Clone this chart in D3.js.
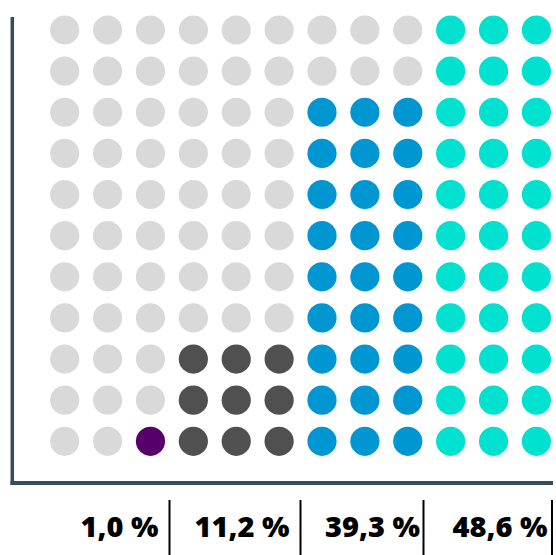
<!DOCTYPE html>
<html>
<head>
<meta charset="utf-8">
<script src="https://cdn.jsdelivr.net/npm/d3@7"></script>
<style>
  html, body { margin: 0; padding: 0; background: #ffffff; }
  svg { display: block; }
</style>
</head>
<body>
<svg id="chart" width="556" height="555"></svg>
<script>
// ---- data ----
const groups = ["A", "B", "C", "D"];
const labels = ["1,0 %", "11,2 %", "39,3 %", "48,6 %"];
const dotCounts = [1, 9, 27, 33];
const groupColors = ["#57006b", "#505050", "#0096d1", "#00e1d0"];
const colsPerGroup = 3;
const rowsCount = 11;

// ---- layout ----
const svg = d3.select("#chart");
const nCols = groups.length * colsPerGroup;

const x = d3.scalePoint().domain(d3.range(nCols)).range([64.7, 536.4]);
const y = d3.scalePoint().domain(d3.range(rowsCount)).range([441.3, 30]);
const r = 14.6;

// build cells: each group fills bottom-up, right-to-left
const cells = [];
groups.forEach((g, gi) => {
  for (let row = 0; row < rowsCount; row++) {
    for (let k = 0; k < colsPerGroup; k++) {
      const idx = row * colsPerGroup + k;           // fill order index
      const col = gi * colsPerGroup + (colsPerGroup - 1 - k);
      cells.push({ col, row, filled: idx < dotCounts[gi], color: groupColors[gi] });
    }
  }
});

svg.append("g").selectAll("circle")
  .data(cells)
  .join("circle")
  .attr("cx", d => x(d.col))
  .attr("cy", d => y(d.row))
  .attr("r", r)
  .attr("fill", d => d.filled ? d.color : "#d9d9d9");

// axes lines
const axisColor = "#364b5b";
svg.append("line")
  .attr("x1", 12.3).attr("x2", 12.3)
  .attr("y1", 17).attr("y2", 485)
  .attr("stroke", axisColor).attr("stroke-width", 3.5);
svg.append("line")
  .attr("x1", 10.5).attr("x2", 553)
  .attr("y1", 483).attr("y2", 483)
  .attr("stroke", axisColor).attr("stroke-width", 4);

// labels and separators
const sepX = [169.5, 300.5, 423.5, 552];
const gap = [11, 11, 3.5, 4.5];
const lab = svg.append("g");
groups.forEach((g, gi) => {
  lab.append("line")
    .attr("x1", sepX[gi]).attr("x2", sepX[gi])
    .attr("y1", 500).attr("y2", 555)
    .attr("stroke", "#000").attr("stroke-width", 2);
  lab.append("text")
    .attr("x", sepX[gi] - gap[gi])
    .attr("y", 537)
    .attr("text-anchor", "end")
    .attr("font-family", "'Open Sans', sans-serif")
    .attr("font-weight", 800)
    .attr("font-size", 29)
    .attr("fill", "#000")
    .text(labels[gi]);
});
</script>
</body>
</html>
